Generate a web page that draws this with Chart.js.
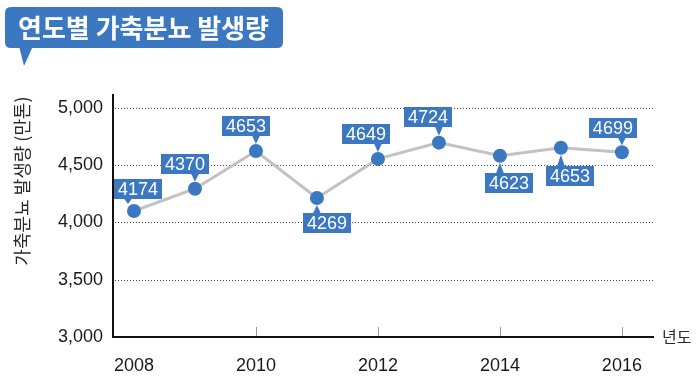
<!DOCTYPE html>
<html>
<head>
<meta charset="utf-8">
<script src="https://cdn.jsdelivr.net/npm/chart.js@4.4.1/dist/chart.umd.min.js"></script>
<style>
  html, body { margin: 0; padding: 0; background: #ffffff; }
  #wrap { width: 700px; height: 389px; position: relative; }
</style>
</head>
<body>
<div id="wrap"><canvas id="c" width="700" height="389"></canvas></div>
<script>
// ---- data ----
const years = [2008, 2009, 2010, 2011, 2012, 2013, 2014, 2015, 2016];
const plotValues = [4100, 4295, 4624, 4214, 4555, 4697, 4583, 4653, 4613];
const valueLabels = ['4174', '4370', '4653', '4269', '4649', '4724', '4623', '4653', '4699'];
const xTickYears = [2008, 2010, 2012, 2014, 2016];
const yTickValues = [3000, 3500, 4000, 4500, 5000];
const titleText = '연도별 가축분뇨 발생량';
const yTitleText = '가축분뇨 발생량 (만톤)';
const xTitleText = '년도';

// ---- label styling (not data) ----
const labelSide = ['up', 'up', 'up', 'down', 'up', 'up', 'down', 'down', 'up'];
const labelShift = [4, -10, -10, 10, -12, -11, 9, 9, -9];
const labelGap = [12, 15, 15, 15, 15, 16, 17, 18, 14];
const pointerShift = [-6, 0, 0, 0, 0, 0, 0, 0, 0];

const BLUE = '#3c78c1';
const LATIN = '"Liberation Sans", Arial, Helvetica, sans-serif';
const KR = '"Noto Sans CJK KR", "Noto Sans", sans-serif';

function roundRect(ctx, x, y, w, h, r) {
  ctx.beginPath();
  ctx.moveTo(x + r, y);
  ctx.lineTo(x + w - r, y);
  ctx.quadraticCurveTo(x + w, y, x + w, y + r);
  ctx.lineTo(x + w, y + h - r);
  ctx.quadraticCurveTo(x + w, y + h, x + w - r, y + h);
  ctx.lineTo(x + r, y + h);
  ctx.quadraticCurveTo(x, y + h, x, y + h - r);
  ctx.lineTo(x, y + r);
  ctx.quadraticCurveTo(x, y, x + r, y);
  ctx.closePath();
}

const decorPlugin = {
  id: 'decor',
  beforeDatasetsDraw(chart) {
    const ctx = chart.ctx;
    const ys = chart.scales.y, xs = chart.scales.x;
    const area = chart.chartArea;
    ctx.save();
    // dotted grid lines
    ctx.strokeStyle = '#4a4a4a';
    ctx.lineWidth = 1;
    ctx.setLineDash([1, 2]);
    yTickValues.forEach(v => {
      if (v === ys.min) return;
      const y = Math.round(ys.getPixelForValue(v)) + 0.5;
      ctx.beginPath();
      ctx.moveTo(area.left + 2, y);
      ctx.lineTo(area.right, y);
      ctx.stroke();
    });
    ctx.setLineDash([]);
    // small upward tick marks on x axis
    ctx.strokeStyle = '#999';
    ctx.lineWidth = 1;
    xTickYears.forEach(v => {
      if (v === years[0]) return;
      const x = Math.round(xs.getPixelForValue(v)) + 0.5;
      ctx.beginPath();
      ctx.moveTo(x, area.bottom - 1);
      ctx.lineTo(x, area.bottom - 10);
      ctx.stroke();
    });
    ctx.restore();
  },
  afterDatasetsDraw(chart) {
    const ctx = chart.ctx;
    const meta = chart.getDatasetMeta(0);
    ctx.save();
    ctx.font = '18px ' + LATIN;
    ctx.textAlign = 'center';
    ctx.textBaseline = 'middle';
    meta.data.forEach((pt, i) => {
      const txt = valueLabels[i];
      const tw = ctx.measureText(txt).width;
      const w = Math.round(tw + 8), h = 20;
      const cx = pt.x + labelShift[i];
      const px = pt.x + pointerShift[i];
      let bx = Math.round(cx - w / 2), by;
      ctx.fillStyle = BLUE;
      ctx.beginPath();
      if (labelSide[i] === 'up') {
        by = Math.round(pt.y - labelGap[i] - h);
        ctx.moveTo(px - 4, by + h - 0.5);
        ctx.lineTo(px + 4, by + h - 0.5);
        ctx.lineTo(px, pt.y - 7);
      } else {
        by = Math.round(pt.y + labelGap[i]);
        ctx.moveTo(px - 4, by + 0.5);
        ctx.lineTo(px + 4, by + 0.5);
        ctx.lineTo(px, pt.y + 7);
      }
      ctx.closePath();
      ctx.fill();
      ctx.fillRect(bx, by, w, h);
      ctx.fillStyle = '#ffffff';
      ctx.fillText(txt, cx, by + h / 2 + 1);
    });
    ctx.restore();
  },
  afterDraw(chart) {
    const ctx = chart.ctx;
    const area = chart.chartArea;
    ctx.save();
    // title bubble
    ctx.fillStyle = BLUE;
    roundRect(ctx, 5, 7, 278, 41, 6);
    ctx.fill();
    ctx.beginPath();
    ctx.moveTo(19, 46);
    ctx.lineTo(33, 46);
    ctx.lineTo(24, 66);
    ctx.closePath();
    ctx.fill();
    ctx.fillStyle = '#ffffff';
    ctx.font = 'bold 26px ' + KR;
    ctx.textAlign = 'left';
    ctx.textBaseline = 'middle';
    ctx.fillText(titleText, 18, 28);
    // y-axis title
    ctx.fillStyle = '#2a2a2a';
    ctx.font = '18px ' + KR;
    ctx.translate(22, 181);
    ctx.rotate(-Math.PI / 2);
    ctx.textAlign = 'center';
    ctx.textBaseline = 'middle';
    ctx.fillText(yTitleText, 0, 0);
    ctx.restore();
    // x-axis title
    ctx.save();
    ctx.fillStyle = '#2a2a2a';
    ctx.font = '16px ' + KR;
    ctx.textAlign = 'left';
    ctx.textBaseline = 'middle';
    ctx.fillText(xTitleText, area.right + 9, area.bottom);
    ctx.restore();
  }
};

new Chart(document.getElementById('c'), {
  type: 'line',
  data: {
    datasets: [{
      data: years.map((y, i) => ({ x: y, y: plotValues[i] })),
      borderColor: '#c2c2c2',
      borderWidth: 3,
      pointRadius: 7,
      pointHoverRadius: 7,
      pointBackgroundColor: BLUE,
      pointBorderColor: BLUE,
      pointBorderWidth: 0,
      tension: 0,
      fill: false
    }]
  },
  options: {
    responsive: false,
    animation: false,
    devicePixelRatio: 1,
    layout: { padding: { top: 95, right: 47, left: 0, bottom: 0 } },
    plugins: { legend: { display: false }, tooltip: { enabled: false }, title: { display: false } },
    scales: {
      x: {
        type: 'linear',
        min: 2007.656,
        max: 2016.51,
        afterBuildTicks: s => { s.ticks = xTickYears.map(v => ({ value: v })); },
        afterFit: s => { s.height = 52; },
        ticks: {
          callback: v => String(v),
          font: { family: LATIN, size: 18 },
          color: '#1a1a1a',
          padding: 18,
          maxRotation: 0,
          autoSkip: false
        },
        grid: { drawOnChartArea: false, drawTicks: false },
        border: { display: true, color: '#111', width: 2 }
      },
      y: {
        min: 3000,
        max: 5113,
        afterBuildTicks: s => { s.ticks = yTickValues.map(v => ({ value: v })); },
        afterFit: s => { s.width = 113; },
        ticks: {
          callback: v => v.toLocaleString('en-US'),
          font: { family: LATIN, size: 18 },
          color: '#1a1a1a',
          padding: 10
        },
        grid: { drawOnChartArea: false, drawTicks: false },
        border: { display: true, color: '#111', width: 2 }
      }
    }
  },
  plugins: [decorPlugin]
});
</script>
</body>
</html>
